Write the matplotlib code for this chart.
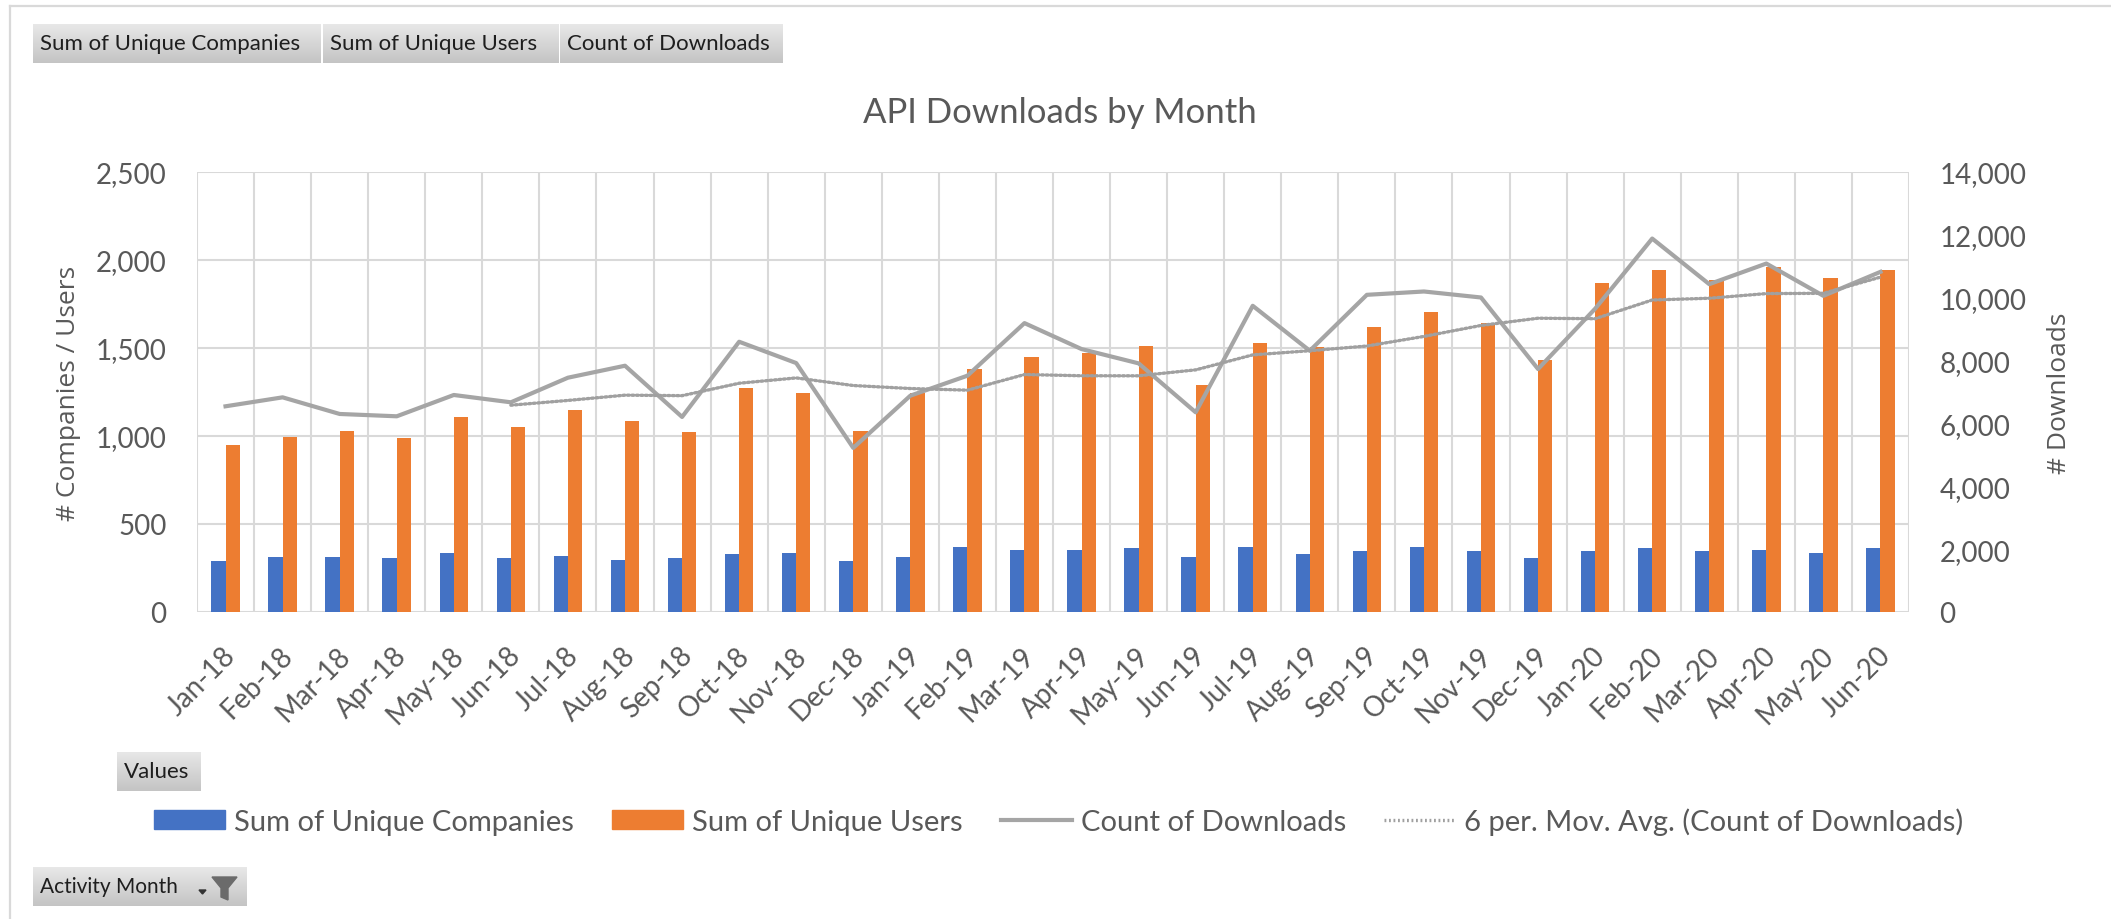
import numpy as np
import pandas as pd
import matplotlib
matplotlib.use("Agg")
import matplotlib.pyplot as plt
from matplotlib.colors import LinearSegmentedColormap
from matplotlib.patches import Patch, Polygon
from matplotlib.lines import Line2D
from matplotlib.ticker import FuncFormatter, MultipleLocator
import matplotlib.transforms as mtransforms

months = ["Jan-18", "Feb-18", "Mar-18", "Apr-18", "May-18", "Jun-18",
          "Jul-18", "Aug-18", "Sep-18", "Oct-18", "Nov-18", "Dec-18",
          "Jan-19", "Feb-19", "Mar-19", "Apr-19", "May-19", "Jun-19",
          "Jul-19", "Aug-19", "Sep-19", "Oct-19", "Nov-19", "Dec-19",
          "Jan-20", "Feb-20", "Mar-20", "Apr-20", "May-20", "Jun-20"]
companies = [289, 312, 312, 304, 335, 304, 320, 297, 304, 327, 335, 289,
             312, 369, 352, 352, 361, 312, 369, 329, 344, 369, 344, 304,
             344, 361, 344, 352, 337, 361]
users = [949, 997, 1029, 989, 1108, 1053, 1148, 1084, 1021, 1275, 1242, 1029,
         1242, 1379, 1450, 1473, 1513, 1290, 1530, 1505, 1617, 1704, 1641, 1433,
         1872, 1942, 1887, 1959, 1895, 1942]
downloads = [6545, 6830, 6301, 6227, 6905, 6672, 7455, 7836, 6206, 8599, 7921, 5221,
             6883, 7519, 9192, 8366, 7911, 6354, 9743, 8313, 10092, 10198, 10007, 7731,
             9650, 11882, 10431, 11087, 10060, 10823]

# excel trendline: 6 period moving average of the downloads series
mov_avg = pd.Series(downloads).rolling(6).mean()

BLUE = "#4472C4"
ORANGE = "#ED7D31"
GRAY = "#A5A5A5"
TXT = "#595959"
GRID = "#D9D9D9"
FONT = "Lato"

W, H = 2111, 920
fig = plt.figure(figsize=(W / 100, H / 100), dpi=100)


def fx(px):
    return px / W


def fy(py):
    return 1 - py / H


# chart area border (left + top visible)
fig.add_artist(Line2D([fx(10), fx(10)], [0, fy(7)], color=GRID, lw=1.6))
fig.add_artist(Line2D([fx(10), 1], [fy(7), fy(7)], color=GRID, lw=1.6))

btn_cmap = LinearSegmentedColormap.from_list("btn", ["#e8e8e8", "#c4c4c4"])


def pivot_button(x0, y0, x1, y1, label, size=16):
    bax = fig.add_axes([fx(x0), fy(y1), (x1 - x0) / W, (y1 - y0) / H])
    bax.imshow(np.linspace(0, 1, 64).reshape(-1, 1), aspect="auto",
               cmap=btn_cmap, extent=[0, 1, 0, 1])
    bax.set_axis_off()
    bax.text(7 / (x1 - x0), 0.5, label, ha="left", va="center",
             fontsize=size, family=FONT, color="#1e1e1e")
    return bax


pivot_button(33, 25, 321, 64, "Sum of Unique Companies")
pivot_button(323, 25, 558, 64, "Sum of Unique Users")
pivot_button(560, 25, 783, 64, "Count of Downloads")
pivot_button(117, 753, 201, 792, "Values")
pivot_button(33, 868, 247, 907, "Activity Month", size=15)

# filter icon on the Activity Month button
funnel = [(212, 878), (237, 878), (228, 889), (228, 901), (221, 898), (221, 889)]
fig.add_artist(Polygon([(fx(a), fy(b)) for a, b in funnel], closed=True,
                       color="#6b6b6b", transform=fig.transFigure))
arrow = [(199, 891), (206, 891), (202.5, 895)]
fig.add_artist(Polygon([(fx(a), fy(b)) for a, b in arrow], closed=True,
                       color="#333333", transform=fig.transFigure))

# main plot area
ax = fig.add_axes([fx(197), fy(613), (1909 - 197) / W, (613 - 173) / H])
x = np.arange(len(months))
bw = 0.25
ax.bar(x - bw / 2, companies, width=bw, color=BLUE, zorder=2)
ax.bar(x + bw / 2, users, width=bw, color=ORANGE, zorder=2)

ax.set_xlim(-0.5, len(months) - 0.5)
ax.set_ylim(0, 2500)
ax.yaxis.set_major_locator(MultipleLocator(500))
ax.yaxis.set_major_formatter(FuncFormatter(lambda v, p: f"{v:,.0f}"))
ax.set_xticks(x)
ax.set_xticklabels(months, rotation=45, ha="right", va="center",
                   rotation_mode="anchor")
ax.set_xticks(np.arange(-0.5, len(months)), minor=True)
ax.grid(axis="y", which="major", color=GRID, lw=1.5, zorder=0)
ax.grid(axis="x", which="minor", color=GRID, lw=1.5, zorder=0)
ax.tick_params(axis="x", which="both", length=0, pad=28, labelsize=20,
               labelcolor=TXT)
ax.tick_params(axis="y", length=0, pad=22, labelsize=20, labelcolor=TXT)
for s in ax.spines.values():
    s.set_visible(False)
shift = mtransforms.ScaledTranslation(6 / 100, 0, fig.dpi_scale_trans)
for lab in ax.get_xticklabels():
    lab.set_transform(lab.get_transform() + shift)
    lab.set_family(FONT)
for lab in ax.get_yticklabels():
    lab.set_family(FONT)
ax.set_ylabel("# Companies / Users", fontsize=19, family="Open Sans", color=TXT)
ax.yaxis.set_label_coords(-0.0678, 0.5)

ax2 = ax.twinx()
ax2.plot(x, downloads, color=GRAY, lw=3.0, zorder=3)
ax2.plot(x, mov_avg, color="#A0A0A0", lw=2.4, ls=(0, (0.55, 0.8)),
         dash_capstyle="round", zorder=3)
ax2.set_ylim(0, 14000)
ax2.yaxis.set_major_locator(MultipleLocator(2000))
ax2.yaxis.set_major_formatter(FuncFormatter(lambda v, p: f"{v:,.0f}"))
ax2.tick_params(axis="y", length=0, pad=22, labelsize=20, labelcolor=TXT)
for lab in ax2.get_yticklabels():
    lab.set_family(FONT)
for s in ax2.spines.values():
    s.set_visible(False)
ax2.set_ylabel("# Downloads", fontsize=19, family="Open Sans", color=TXT)
ax2.yaxis.set_label_coords(1.0806, 0.5)

fig.text(fx(1060), fy(123), "API Downloads by Month", ha="center",
         va="baseline", fontsize=25, family=FONT, color=TXT)

handles = [
    Patch(color=BLUE),
    Patch(color=ORANGE),
    Line2D([], [], color=GRAY, lw=3.0),
    Line2D([], [], color="#A0A0A0", lw=2.4, ls=(0, (0.55, 0.8))),
]
labels = ["Sum of Unique Companies", "Sum of Unique Users", "Count of Downloads",
          "6 per. Mov. Avg. (Count of Downloads)"]
leg = fig.legend(handles, labels, loc="center left",
                 bbox_to_anchor=(fx(154), fy(822)), ncol=4, frameon=False,
                 borderaxespad=0, borderpad=0, handlelength=2.45,
                 handleheight=0.6, handletextpad=0.3, columnspacing=1.3,
                 prop={"family": FONT, "size": 21})
for t in leg.get_texts():
    t.set_color(TXT)

fig.savefig("out.png", dpi=100, facecolor="white")
